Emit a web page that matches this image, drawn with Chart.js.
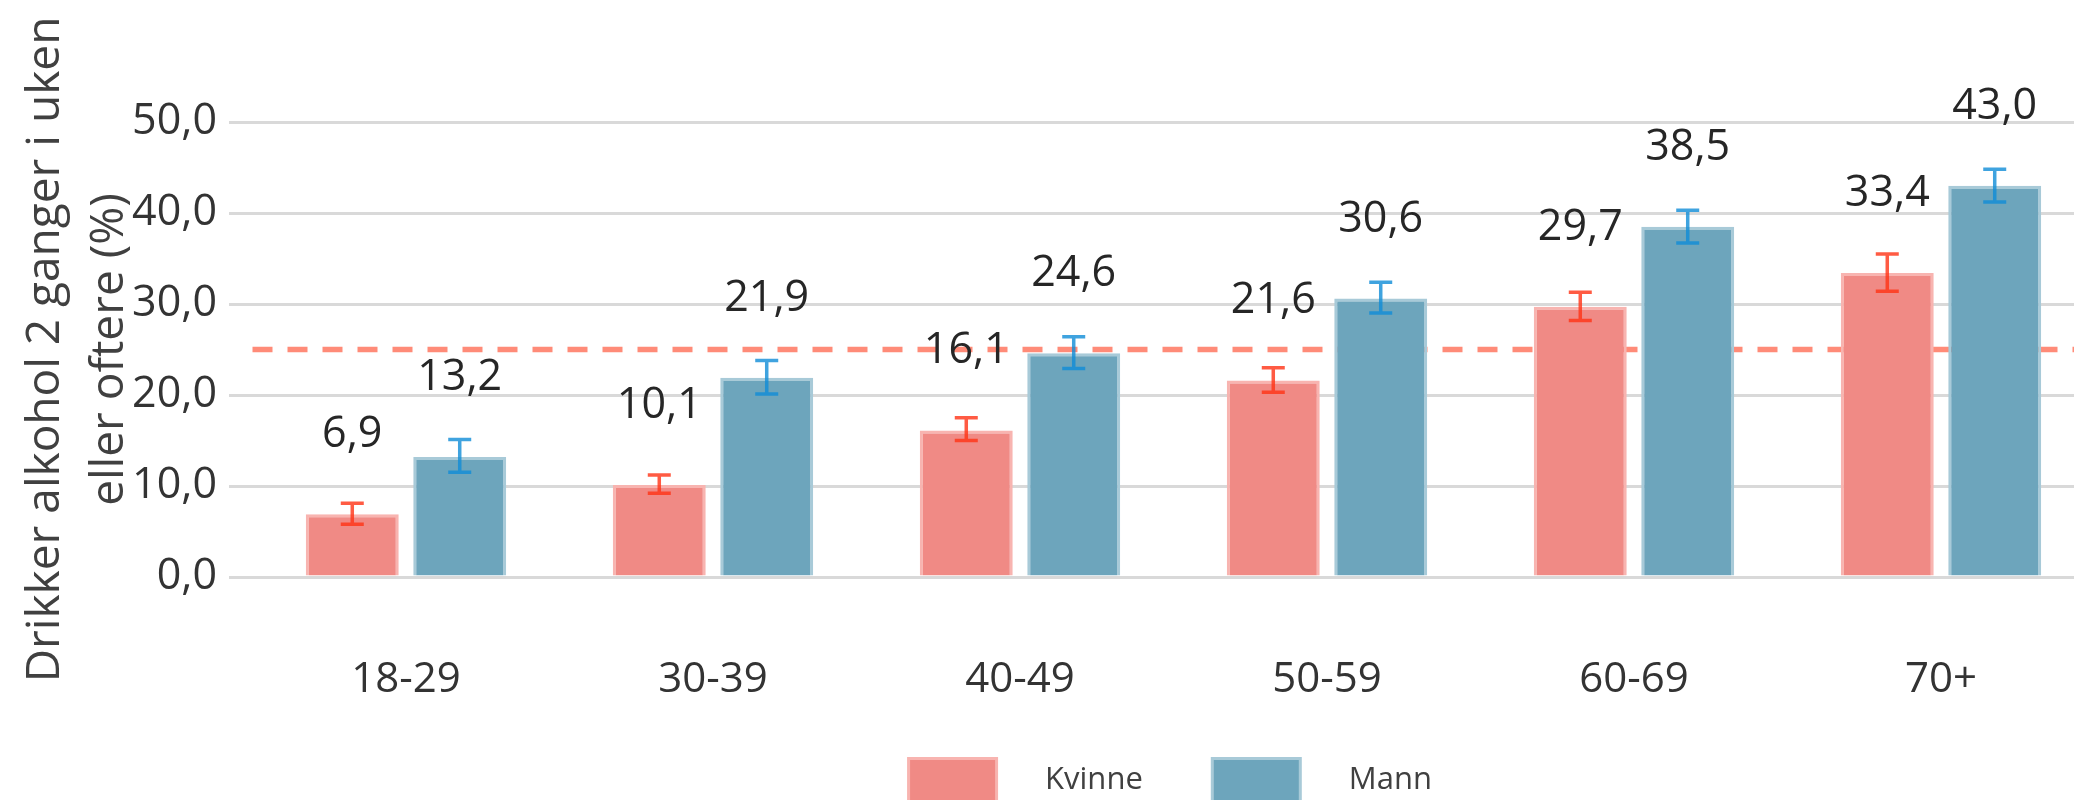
<!DOCTYPE html>
<html>
<head>
<meta charset="utf-8">
<script src="https://cdn.jsdelivr.net/npm/chart.js@4.4.1/dist/chart.umd.min.js"></script>
<style>
  html, body { margin: 0; padding: 0; overflow: hidden; background: #ffffff; }
  #wrap { position: relative; width: 2110px; height: 800px; }
</style>
</head>
<body>
<div id="wrap"><canvas id="c"></canvas></div>
<script>
// ---- data ----
const categories = ['18-29', '30-39', '40-49', '50-59', '60-69', '70+'];
const seriesNames = ['Kvinne', 'Mann'];
const kvinneValues = [6.9, 10.1, 16.1, 21.6, 29.7, 33.4];
const mannValues = [13.2, 21.9, 24.6, 30.6, 38.5, 43.0];
const kvinneLower = [5.8, 9.2, 15.0, 20.3, 28.2, 31.4];
const kvinneUpper = [8.1, 11.2, 17.5, 23.0, 31.3, 35.5];
const mannLower = [11.5, 20.1, 22.9, 29.0, 36.7, 41.2];
const mannUpper = [15.1, 23.8, 26.4, 32.4, 40.3, 44.8];
const referenceLine = [25];
const yTicks = [0, 10, 20, 30, 40, 50];
const yAxisTitle = ['Drikker alkohol 2 ganger i uken', 'eller oftere (%)'];

const fmt = v => v.toFixed(1).replace('.', ',');
const FONT = '"Open Sans", "Noto Sans", sans-serif';

const refLinePlugin = {
  id: 'refLine',
  beforeDatasetsDraw(chart) {
    const { ctx, chartArea } = chart;
    const y = chart.scales.y.getPixelForValue(referenceLine[0]);
    ctx.save();
    ctx.strokeStyle = '#FF8B78';
    ctx.lineWidth = 5.5;
    ctx.setLineDash([20, 15]);
    ctx.beginPath();
    ctx.moveTo(chartArea.left, y);
    ctx.lineTo(chartArea.right, y);
    ctx.stroke();
    ctx.restore();
  }
};

const errorBarPlugin = {
  id: 'errorBars',
  afterDatasetsDraw(chart) {
    const { ctx } = chart;
    const yScale = chart.scales.y;
    chart.data.datasets.forEach((ds, di) => {
      const meta = chart.getDatasetMeta(di);
      ctx.save();
      ctx.strokeStyle = ds.errorColor;
      ctx.lineWidth = 3.5;
      meta.data.forEach((el, i) => {
        const yl = yScale.getPixelForValue(ds.lower[i]);
        const yu = yScale.getPixelForValue(ds.upper[i]);
        const x = el.x, hw = 11.5;
        ctx.beginPath();
        ctx.moveTo(x, yl); ctx.lineTo(x, yu);
        ctx.moveTo(x - hw, yl); ctx.lineTo(x + hw, yl);
        ctx.moveTo(x - hw, yu); ctx.lineTo(x + hw, yu);
        ctx.stroke();
      });
      ctx.restore();
    });
  }
};

const valueLabelPlugin = {
  id: 'valueLabels',
  afterDatasetsDraw(chart) {
    const { ctx } = chart;
    ctx.save();
    ctx.font = '43px ' + FONT;
    ctx.fillStyle = '#262626';
    ctx.textAlign = 'center';
    ctx.textBaseline = 'alphabetic';
    chart.data.datasets.forEach((ds, di) => {
      const meta = chart.getDatasetMeta(di);
      meta.data.forEach((el, i) => {
        ctx.fillText(fmt(ds.data[i]), el.x, el.y - 67);
      });
    });
    ctx.restore();
  }
};

const legendPlugin = {
  id: 'customLegend',
  afterDraw(chart) {
    const { ctx, chartArea } = chart;
    ctx.save();
    ctx.font = '31px ' + FONT;
    const boxW = 91, boxH = 46, gapText = 47, gapItem = 68;
    const items = chart.data.datasets.map(ds => ({ label: ds.label, color: ds.backgroundColor, border: ds.borderColor }));
    let total = 0;
    items.forEach((it, i) => {
      it.tw = ctx.measureText(it.label).width;
      total += boxW + gapText + it.tw + (i < items.length - 1 ? gapItem : 0);
    });
    let x = (chartArea.left + chartArea.right) / 2 - total / 2 - 4;
    const top = chartArea.bottom + 180;
    items.forEach(it => {
      ctx.fillStyle = it.border;
      ctx.fillRect(x, top, boxW, boxH);
      ctx.fillStyle = it.color;
      ctx.fillRect(x + 3, top + 3, boxW - 6, boxH - 3);
      ctx.fillStyle = '#404040';
      ctx.textAlign = 'left';
      ctx.textBaseline = 'middle';
      ctx.fillText(it.label, x + boxW + gapText, top + 23);
      x += boxW + gapText + it.tw + gapItem;
    });
    ctx.restore();
  }
};

function build() {
  new Chart(document.getElementById('c'), {
    type: 'bar',
    data: {
      labels: categories,
      datasets: [
        {
          label: seriesNames[0], data: kvinneValues,
          lower: kvinneLower, upper: kvinneUpper,
          backgroundColor: '#F08A85', borderColor: 'rgba(248,180,176,1)',
          borderWidth: 3, borderSkipped: 'bottom',
          errorColor: 'rgba(255,50,20,0.8)',
          categoryPercentage: 0.70, barPercentage: 0.865
        },
        {
          label: seriesNames[1], data: mannValues,
          lower: mannLower, upper: mannUpper,
          backgroundColor: '#6DA5BC', borderColor: 'rgba(168,202,216,1)',
          borderWidth: 3, borderSkipped: 'bottom',
          errorColor: 'rgba(15,140,215,0.8)',
          categoryPercentage: 0.70, barPercentage: 0.865
        }
      ]
    },
    options: {
      responsive: true,
      maintainAspectRatio: false,
      animation: false,
      layout: { padding: { top: 122, right: 15.5, bottom: 0, left: 0 } },
      plugins: {
        legend: { display: false },
        tooltip: { enabled: false }
      },
      scales: {
        x: {
          grid: { display: false },
          border: { display: false },
          ticks: { font: { family: FONT, size: 42 }, color: '#333333', padding: 70, maxRotation: 0 },
          afterFit(scale) { scale.height = 223; }
        },
        y: {
          min: 0, max: 50,
          afterBuildTicks(scale) { scale.ticks = yTicks.map(v => ({ value: v })); },
          grid: { color: '#D9D9D9', lineWidth: 3, tickLength: 23.5, drawTicks: true, tickColor: '#D9D9D9' },
          border: { display: false },
          ticks: {
            font: { family: FONT, size: 43 }, color: '#333333', padding: 12,
            callback: v => fmt(v)
          },
          title: {
            display: true, text: yAxisTitle, color: '#404040',
            font: { family: FONT, size: 46, lineHeight: 1.39 },
            padding: { top: 14, bottom: 0 }
          },
          afterFit(scale) { scale.width = 252.5; }
        }
      }
    },
    plugins: [refLinePlugin, errorBarPlugin, valueLabelPlugin, legendPlugin]
  });
}

if (document.fonts && document.fonts.load) {
  Promise.all([
    document.fonts.load('43px "Open Sans"'),
  ]).then(build, build);
} else {
  build();
}
</script>
</body>
</html>
